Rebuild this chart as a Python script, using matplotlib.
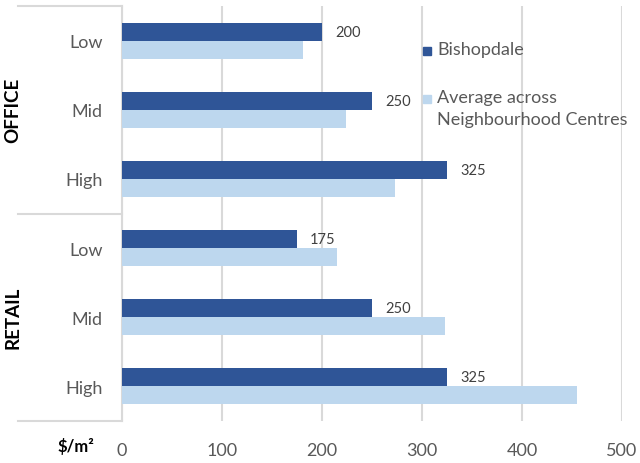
import matplotlib.pyplot as plt
from matplotlib.patches import Rectangle
import matplotlib.transforms as mtransforms

plt.rcParams['font.family'] = ['Lato', 'DejaVu Sans']

# Rent per square metre by grade
grades = ['Low', 'Mid', 'High', 'Low', 'Mid', 'High']
groups = ['OFFICE', 'RETAIL']
bishopdale = [200, 250, 325, 175, 250, 325]
average = [181, 224, 273, 215, 323, 455]

dark = '#2F5597'
light = '#BDD7EE'
grid = '#D9D9D9'
grey_text = '#595959'

fig = plt.figure(figsize=(6.4, 4.64), dpi=100)
ax = fig.add_axes([122 / 640, 1 - 422 / 464, 500 / 640, 415 / 464])

pos = list(range(len(grades)))
h = 0.26
ax.barh([p - h / 2 for p in pos], bishopdale, height=h, color=dark, zorder=3)
ax.barh([p + h / 2 for p in pos], average, height=h, color=light, zorder=3)

for p, v in zip(pos, bishopdale):
    ax.text(v + 13, p - h / 2, str(v), va='center', ha='left',
            fontsize=10.5, color='#404040')

ax.set_xlim(0, 500)
ax.set_ylim(5.5, -0.5)
ax.set_xticks([0, 100, 200, 300, 400, 500])
ax.set_yticks(pos)
ax.set_yticklabels(grades)
ax.tick_params(axis='both', length=0, labelsize=13, labelcolor=grey_text)
ax.tick_params(axis='y', pad=14)
ax.tick_params(axis='x', pad=15)
ax.grid(axis='x', color=grid, linewidth=1.5, zorder=0)
for s in ['top', 'right', 'bottom']:
    ax.spines[s].set_visible(False)
ax.spines['left'].set_color(grid)
ax.spines['left'].set_linewidth(1.5)

# group separators to the left of the axis
trans = mtransforms.blended_transform_factory(ax.transAxes, ax.transData)
for y in [-0.5, 2.5, 5.5]:
    ax.plot([-0.208, 0], [y, y], color=grid, linewidth=1.5,
            transform=trans, clip_on=False)

for name, y in zip(groups, [1, 4]):
    ax.text(-0.218, y, name, transform=trans, rotation=90, ha='center',
            va='center', fontsize=13.5, fontweight='bold', color='black')

fig.text(76 / 640, 1 - 447 / 464, '\\$/m²', ha='center', va='center',
         fontsize=12, fontweight='bold', color='black')

# legend
legend_items = [('Bishopdale', dark, 52), ('Average across\nNeighbourhood Centres', light, 100)]
for label, c, ypx in legend_items:
    fig.patches.append(Rectangle((423 / 640, 1 - (ypx + 4) / 464), 8 / 640, 8 / 464,
                                 transform=fig.transFigure, color=c))
    fig.text(437 / 640, 1 - (ypx - 10) / 464, label, ha='left', va='top',
             fontsize=13, color=grey_text, linespacing=1.45)

fig.savefig('out.png', dpi=100)
